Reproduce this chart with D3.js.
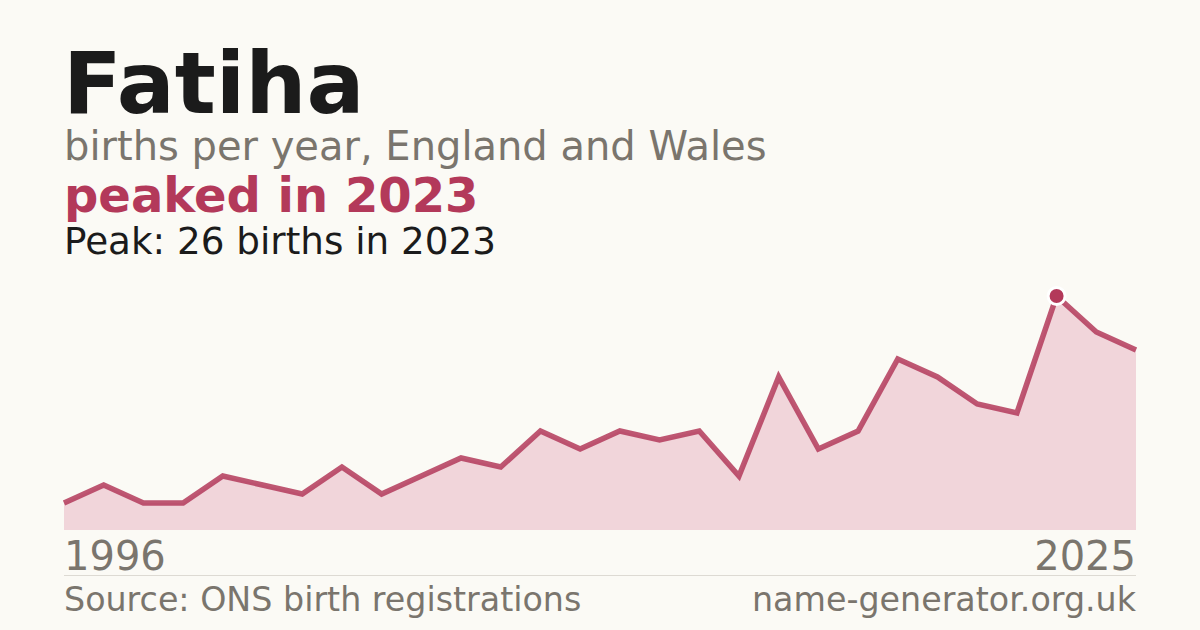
<!DOCTYPE html>
<html>
<head>
<meta charset="utf-8">
<script src="https://cdn.jsdelivr.net/npm/d3@7"></script>
<style>
  html, body { margin: 0; padding: 0; background: #fbfaf5; }
  svg { display: block; font-family: "DejaVu Sans", sans-serif; }
</style>
</head>
<body>
<svg id="chart" width="1200" height="630"></svg>
<script>
// years with published counts (two early years fall under the suppression limit)
const years = [1996, 1998, 1999, 2000, 2001, 2002, 2003, 2004, 2005, 2006, 2008, 2009, 2010,
  2011, 2012, 2013, 2014, 2015, 2016, 2017, 2018, 2019, 2020, 2021, 2022, 2023, 2024, 2025];
const births = [3, 5, 3, 3, 6, 5, 4, 7, 4, 6, 8, 7, 11, 9, 11, 10, 11, 6, 17, 9, 11, 19, 17, 14, 13, 26, 22, 20];
const axisLabels = ["1996", "2025"];

const peakIdx = births.indexOf(d3.max(births));
const peakYear = years[peakIdx];

const W = 1200, H = 630;
const plotLeft = 64, plotRight = 1136, plotTop = 296, plotBase = 530;
const accent = "#b3395a";
const grey = "#7a756d";

const svg = d3.select("#chart");
svg.append("rect").attr("width", W).attr("height", H).attr("fill", "#fbfaf5");

// header texts
svg.append("text").attr("x", 63).attr("y", 113)
  .attr("font-size", 86).attr("font-weight", "bold").attr("fill", "#1b1b1b")
  .text("Fatiha");
svg.append("text").attr("x", 64).attr("y", 160)
  .attr("font-size", 40).attr("fill", grey)
  .text("births per year, England and Wales");
svg.append("text").attr("x", 64).attr("y", 212)
  .attr("font-size", 48).attr("font-weight", "bold").attr("fill", accent)
  .text(`peaked in ${peakYear}`);
svg.append("text").attr("x", 64).attr("y", 254)
  .attr("font-size", 37.3).attr("fill", "#1b1b1b")
  .text(`Peak: ${births[peakIdx]} births in ${peakYear}`);

// scales
const x = d3.scalePoint().domain(years).range([plotLeft, plotRight]);
const y = d3.scaleLinear().domain([0, d3.max(births)]).range([plotBase, plotTop]);

const pts = years.map((yr, i) => ({ year: yr, v: births[i] }));

const area = d3.area().x(d => x(d.year)).y0(plotBase).y1(d => y(d.v));
const line = d3.line().x(d => x(d.year)).y(d => y(d.v));

svg.append("path").datum(pts).attr("d", area).attr("fill", "#f1d5da");
svg.append("path").datum(pts).attr("d", line)
  .attr("fill", "none").attr("stroke", accent).attr("stroke-opacity", 0.85)
  .attr("stroke-width", 5.5).attr("stroke-linejoin", "miter");

// peak marker
svg.append("circle")
  .attr("cx", x(peakYear)).attr("cy", y(births[peakIdx])).attr("r", 8.5)
  .attr("fill", accent).attr("stroke", "#ffffff").attr("stroke-width", 3);

// axis end labels
svg.append("text").attr("x", plotLeft).attr("y", 570)
  .attr("font-size", 40).attr("fill", grey).text(axisLabels[0]);
svg.append("text").attr("x", plotRight).attr("y", 570).attr("text-anchor", "end")
  .attr("font-size", 40).attr("fill", grey).text(axisLabels[1]);

// footer
svg.append("line").attr("x1", plotLeft).attr("x2", plotRight).attr("y1", 575.5).attr("y2", 575.5)
  .attr("stroke", "#dddad3").attr("stroke-width", 1);
svg.append("text").attr("x", plotLeft).attr("y", 611)
  .attr("font-size", 33.3).attr("fill", grey).text("Source: ONS birth registrations");
svg.append("text").attr("x", plotRight).attr("y", 611).attr("text-anchor", "end")
  .attr("font-size", 33.3).attr("fill", grey).text("name-generator.org.uk");
</script>
</body>
</html>
